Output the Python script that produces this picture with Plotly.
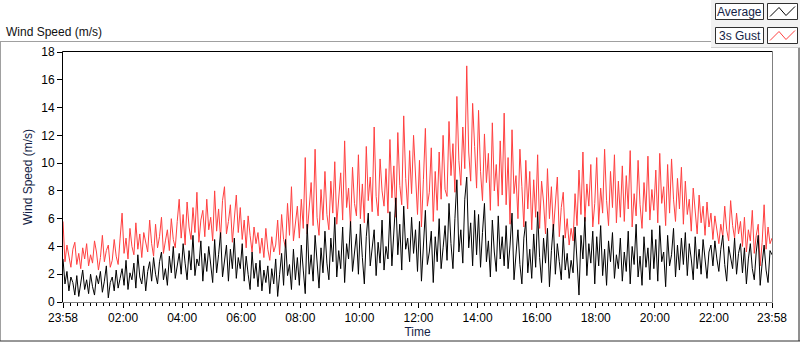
import pandas as pd
import plotly.graph_objects as go

# ---- data (4-minute samples, 23:58 -> 23:58) ----
start_time = "2024-01-01 23:58"
sample_minutes = 4

gust = [
    5.8, 2.9, 4.1, 3.3, 2.5, 3.8, 4.3, 2.7, 3.5, 2.4, 3.9, 3.1, 4.2, 2.6, 3.4,
    2.8, 4.4, 3.6, 2.3, 3.2, 4.8, 2.9, 3.7, 4.1, 2.5, 3.0, 4.5, 3.3, 2.7, 4.6,
    6.4, 3.5, 4.6, 3.1, 5.3, 4.0, 3.4, 5.7, 3.8, 4.9, 3.2, 5.0, 4.3, 3.6, 5.9,
    4.2, 3.3, 5.6, 3.9, 4.7, 6.1, 3.5, 4.4, 5.2, 3.7, 6.0, 4.5, 3.9, 5.8, 7.4,
    4.6, 6.3, 4.1, 7.2, 5.4, 4.5, 6.8, 5.0, 7.9, 4.3, 5.9, 6.6, 4.7, 7.4, 5.2,
    6.1, 4.4, 8.0, 5.1, 6.7, 4.6, 7.3, 8.3, 4.9, 5.8, 7.0, 4.3, 6.4, 7.7, 5.0,
    6.8, 4.5, 5.9, 3.9, 6.2, 4.8, 3.6, 5.4, 4.2, 5.0, 3.5, 4.6, 3.2, 5.3, 3.8,
    3.0, 4.7, 3.6, 4.1, 5.9, 3.4, 6.3, 4.5, 3.9, 7.1, 4.8, 8.3, 4.4, 5.6, 6.9,
    4.6, 7.4, 5.3, 10.4, 4.9, 6.8, 8.6, 5.5, 11.0, 6.1, 4.8, 8.1, 5.9, 9.4, 6.3,
    5.2, 8.7, 6.4, 10.1, 5.6, 7.5, 9.3, 5.9, 11.6, 6.8, 8.2, 5.4, 9.7, 7.1, 6.2,
    10.6, 6.0, 8.5, 5.7, 11.2, 7.3, 9.0, 6.5, 12.6, 7.6, 6.2, 10.3, 8.0, 6.9, 9.6,
    6.4, 11.7, 7.5, 9.8, 6.1, 12.2, 8.4, 7.0, 13.4, 8.9, 6.7, 10.9, 7.8, 12.0, 9.2,
    6.3, 10.2, 5.4, 8.8, 12.5, 6.9, 7.9, 11.1, 5.8, 9.4, 6.6, 10.8, 7.4, 12.0, 8.1,
    7.6, 13.0, 9.1, 11.4, 7.9, 14.8, 10.2, 8.4, 12.6, 9.6, 17.0, 10.8, 8.7, 14.3, 11.2,
    8.2, 13.8, 9.4, 7.3, 12.1, 8.6, 10.7, 6.6, 12.9, 8.0, 9.9, 6.9, 11.6, 7.7, 13.6,
    7.0, 10.4, 5.6, 12.4, 7.8, 9.1, 6.0, 11.0, 8.3, 5.4, 10.2, 6.7, 9.4, 5.2, 8.8,
    6.1, 10.6, 5.3, 8.7, 7.2, 4.9, 9.6, 6.0, 8.3, 5.1, 7.4, 9.0, 4.7, 6.8, 7.9,
    4.6, 6.0, 4.1, 5.3, 4.4, 7.8, 5.5, 9.5, 6.3, 10.8, 5.8, 8.5, 6.9, 9.9, 5.4,
    7.1, 10.4, 5.6, 8.2, 6.4, 11.0, 7.3, 5.5, 9.4, 6.8, 10.6, 5.7, 8.7, 6.1, 9.8,
    5.8, 9.1, 6.7, 10.9, 5.4, 7.8, 6.2, 10.2, 7.0, 5.3, 8.6, 6.5, 10.5, 5.9, 8.1,
    6.6, 9.5, 5.7, 10.7, 7.1, 8.3, 5.5, 9.9, 6.4, 10.3, 7.4, 5.8, 8.9, 6.7, 9.7,
    5.6, 8.7, 6.3, 7.4, 5.1, 8.2, 6.6, 4.9, 7.7, 5.7, 6.9, 4.8, 7.2, 5.4, 6.4,
    4.5, 6.2, 5.0, 4.2, 5.6, 4.7, 6.9, 5.2, 4.4, 7.3, 5.5, 4.6, 6.4, 4.9, 5.8,
    4.0, 6.1, 3.6, 5.2, 4.4, 6.6, 3.5, 4.8, 5.6, 2.6, 4.3, 7.0, 3.8, 5.4, 4.2,
    4.6,
]

average = [
    3.1, 1.3, 2.2, 0.8, 1.8, 1.4, 0.5, 1.9, 0.4, 1.2, 2.3, 0.9, 1.6, 0.6, 2.0,
    1.1, 0.5, 1.9, 1.3, 2.2, 0.7, 1.5, 2.6, 0.3, 1.4, 1.8, 0.8, 2.3, 1.0, 1.7,
    2.4, 1.2, 3.0, 0.9, 2.1, 1.6, 2.8, 1.0, 3.4, 1.8, 1.3, 2.6, 0.8, 2.2, 2.9,
    1.5, 3.2, 2.0, 1.3, 2.9, 3.6, 1.6, 2.4, 1.2, 3.3, 2.1, 4.0, 1.7, 2.7, 3.5,
    2.0, 4.2, 2.8, 1.6, 3.7, 2.3, 4.8, 1.9, 3.1, 2.6, 4.4, 1.5, 3.5, 2.2, 4.0,
    2.7, 1.4, 4.5, 2.1, 3.4, 5.0, 1.8, 2.9, 4.1, 1.5, 3.8, 2.4, 4.6, 1.7, 3.2,
    2.4, 4.2, 1.5, 3.3, 2.0, 0.9, 3.6, 1.7, 2.8, 1.1, 3.0, 0.8, 2.3, 1.4, 2.6,
    0.6, 2.4, 1.3, 3.1, 0.4, 2.0, 3.5, 1.2, 4.5, 1.9, 2.7, 0.9, 3.8, 1.6, 3.2,
    1.2, 4.1, 2.3, 0.6, 5.6, 2.0, 3.4, 1.5, 4.8, 2.6, 1.0, 3.9, 2.1, 5.1, 2.8,
    1.6, 4.6, 2.9, 6.1, 1.8, 3.7, 2.4, 5.4, 1.4, 4.2, 3.1, 5.8, 2.2, 3.5, 4.9,
    2.0, 5.6, 3.2, 1.3, 4.7, 6.4, 2.6, 3.8, 5.2, 1.9, 4.3, 2.8, 5.9, 2.3, 4.0,
    3.1, 6.5, 2.6, 4.9, 7.5, 3.4, 5.6, 2.3, 6.9, 3.8, 4.6, 2.9, 6.1, 3.5, 5.2,
    2.2, 5.8, 1.5, 4.4, 6.6, 2.7, 3.6, 5.1, 1.4, 4.7, 2.9, 6.0, 2.4, 3.9, 5.5,
    3.0, 7.1, 4.2, 2.4, 6.0, 8.8, 3.6, 5.2, 2.8, 7.4, 9.0, 3.9, 5.7, 2.6, 6.6,
    3.4, 6.3, 2.5, 5.0, 7.1, 2.9, 4.4, 1.8, 5.9, 3.6, 2.2, 6.2, 3.1, 4.7, 2.6,
    5.5, 2.4, 4.1, 6.4, 1.6, 3.5, 5.2, 2.7, 1.3, 4.6, 5.8, 2.1, 3.8, 1.7, 4.9,
    2.5, 6.5, 3.2, 1.4, 4.6, 2.8, 5.3, 1.1, 3.7, 5.6, 2.0, 4.2, 2.9, 1.6, 4.8,
    2.3, 3.5, 1.7, 3.0, 2.1, 5.4, 2.6, 0.5, 4.8, 3.1, 6.1, 1.9, 4.2, 2.8, 5.1,
    1.3, 4.7, 2.6, 5.5, 1.9, 3.8, 1.2, 4.4, 2.9, 5.0, 1.7, 3.4, 2.4, 4.6, 1.5,
    3.6, 2.2, 5.1, 1.3, 4.0, 2.7, 5.6, 1.8, 3.3, 1.2, 4.7, 2.5, 3.9, 1.6, 5.2,
    2.4, 4.5, 1.5, 5.5, 2.9, 3.6, 1.1, 4.8, 2.6, 3.4, 5.3, 1.8, 4.1, 2.3, 4.6,
    2.7, 5.0, 1.9, 4.2, 3.1, 1.6, 4.7, 2.4, 3.8, 2.0, 4.5, 2.9, 1.7, 3.6, 4.1,
    2.6, 4.4, 3.1, 2.2, 3.8, 4.8, 2.7, 1.5, 4.0, 3.3, 2.4, 4.6, 2.0, 3.5, 4.2,
    2.1, 3.9, 1.3, 3.1, 4.2, 2.4, 1.6, 3.6, 4.8, 1.2, 2.8, 4.1, 2.3, 1.4, 3.7,
    3.4,
]

tick_labels = ["23:58", "02:00", "04:00", "06:00", "08:00", "10:00", "12:00",
               "14:00", "16:00", "18:00", "20:00", "22:00", "23:58"]
series_names = ["Average", "3s Gust"]
y_title = "Wind Speed (m/s)"
x_title = "Time"
chart_title = "Wind Speed (m/s)"

# ---- build ----
times = pd.date_range(start_time, periods=len(gust), freq=f"{sample_minutes}min")
t0, t1 = times[0], times[-1]
tick_vals = [t0] + [pd.Timestamp("2024-01-02") + pd.Timedelta(hours=h) for h in range(2, 23, 2)] + [t1]

FONT = "Liberation Sans"
W, H = 800, 342
L, R, T, B = 63, 772, 52, 302


def px(x):
    return (x - L) / (R - L)


def py(y):
    return (B - y) / (B - T)


fig = go.Figure()
fig.add_trace(go.Scatter(x=times, y=gust, mode="lines", name=series_names[1],
                         line=dict(color="#ff4040", width=1)))
fig.add_trace(go.Scatter(x=times, y=average, mode="lines", name=series_names[0],
                         line=dict(color="#000000", width=1)))

shapes = []


def line(x0, y0, x1, y1, color, width=1):
    shapes.append(dict(type="line", xref="paper", yref="paper",
                       x0=px(x0), y0=py(y0), x1=px(x1), y1=py(y1),
                       line=dict(color=color, width=width)))


def rect(x0, y0, x1, y1, color, fill=None, width=1):
    shapes.append(dict(type="rect", xref="paper", yref="paper",
                       x0=px(x0), y0=py(y0), x1=px(x1), y1=py(y1),
                       line=dict(color=color, width=width),
                       fillcolor=fill if fill else "rgba(0,0,0,0)", layer="above"))


# legend panel background
shapes.append(dict(type="rect", xref="paper", yref="paper", x0=px(711), y0=py(0), x1=px(800), y1=py(47.5),
                   line=dict(width=0), fillcolor="#f2f2f2", layer="below"))
# outer frame
line(0, 41.5, 711, 41.5, "#a0a0a0")
line(0.5, 41.5, 0.5, 341, "#a0a0a0")
line(0, 341, 800, 341, "#303030")
line(799, 47.5, 799, 341, "#202020")
line(711, 47.5, 799, 47.5, "#d0d0d0")
# plot frame
line(62.5, 51.5, 772.5, 51.5, "#000000")
line(62.5, 51.5, 62.5, 302.5, "#000000")
line(62.5, 302.5, 772.5, 302.5, "#808080")
line(772.5, 51.5, 772.5, 302.5, "#808080")

# legend boxes
annotations = []
legend_rows = [(3.5, 19.5, "#000000", series_names[0]), (27.5, 43.5, "#ff4040", series_names[1])]
for y0, y1, col, name in legend_rows:
    rect(715.5, y0, 763.5, y1, "#303030", fill="#ffffff")
    rect(767.5, y0, 797.5, y1, "#303030", fill="#ffffff")
    ym = (y0 + y1) / 2
    shapes.append(dict(type="path", xref="paper", yref="paper",
                       path=f"M {px(770)},{py(ym+5)} L {px(779)},{py(ym-4)} L {px(786)},{py(ym+4)} L {px(795)},{py(ym-5)}",
                       line=dict(color=col, width=1), layer="above"))
    annotations.append(dict(xref="paper", yref="paper", x=px(739.5), y=py(ym + 0.5), text=name,
                            showarrow=False, xanchor="center", yanchor="middle",
                            font=dict(family=FONT, size=12, color="#141e46")))

annotations.append(dict(xref="paper", yref="paper", x=px(4), y=py(32), text=chart_title,
                        showarrow=False, xanchor="left", yanchor="middle",
                        font=dict(family=FONT, size=12, color="#111111")))

fig.update_layout(
    width=W, height=H,
    margin=dict(l=L, r=W - R, t=T, b=H - B, autoexpand=False),
    paper_bgcolor="#ffffff", plot_bgcolor="#ffffff",
    showlegend=False,
    font=dict(family=FONT, size=12, color="#000000"),
    shapes=shapes, annotations=annotations,
    xaxis=dict(range=[t0, t1], tickmode="array", tickvals=tick_vals, ticktext=tick_labels,
               automargin=False,
               ticks="outside", ticklen=5, tickwidth=1, tickcolor="#000000",
               showgrid=False, zeroline=False, showline=False,
               tickfont=dict(family=FONT, size=12, color="#000000"),
               title=dict(text=x_title, standoff=3, font=dict(family=FONT, size=12, color="#141e46")),
               minor=dict(tick0="2024-01-02 02:00", dtick=800000, ticks="outside", ticklen=3,
                          tickcolor="#000000", showgrid=False)),
    yaxis=dict(range=[0, 18], dtick=2, ticks="outside", ticklen=5, tickwidth=1, tickcolor="#000000",
               automargin=False,
               showgrid=False, zeroline=False, showline=False,
               tickfont=dict(family=FONT, size=12, color="#000000"),
               title=dict(text=y_title, standoff=6, font=dict(family=FONT, size=12, color="#141e46"))),
)

fig.write_html("out.html", config={"displayModeBar": False},
               post_script="document.body.style.margin='0';document.body.style.overflow='hidden';")
